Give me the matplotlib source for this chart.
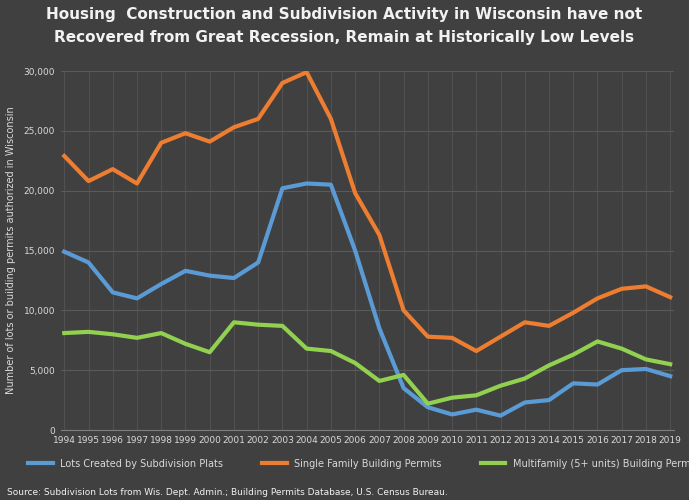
import matplotlib.pyplot as plt

years = list(range(1994, 2020))
lots_plats = [14900, 14000, 11500, 11000, 12200, 13300, 12900, 12700, 14000, 20200,
              20600, 20500, 15000, 8500, 3500, 1900, 1300, 1700, 1200, 2300,
              2500, 3900, 3800, 5000, 5100, 4500]
single_family = [22900, 20800, 21800, 20600, 24000, 24800, 24100, 25300, 26000, 29000,
                 29900, 26000, 19800, 16300, 10000, 7800, 7700, 6600, 7800, 9000,
                 8700, 9800, 11000, 11800, 12000, 11100]
multifamily = [8100, 8200, 8000, 7700, 8100, 7200, 6500, 9000, 8800, 8700,
               6800, 6600, 5600, 4100, 4600, 2200, 2700, 2900, 3700, 4300,
               5400, 6300, 7400, 6800, 5900, 5500]

bg = '#404040'
fig = plt.figure(figsize=(6.89, 5.0), dpi=100, facecolor=bg)
ax = fig.add_axes([0.088, 0.14, 0.89, 0.718], facecolor=bg)

ax.plot(years, lots_plats, color='#5b9bd5', lw=3, solid_joinstyle='round',
        label='Lots Created by Subdivision Plats')
ax.plot(years, single_family, color='#ed7d31', lw=3, solid_joinstyle='round',
        label='Single Family Building Permits')
ax.plot(years, multifamily, color='#92d050', lw=3, solid_joinstyle='round',
        label='Multifamily (5+ units) Building Permits')

ax.set_xlim(1993.85, 2019.15)
ax.set_ylim(0, 30000)
ax.set_xticks(years)
ax.set_xticklabels([str(y) for y in years], fontsize=6.5, color='#d9d9d9')
ax.set_yticks(range(0, 30001, 5000))
ax.set_yticklabels(['0'] + [f'{v:,}' for v in range(5000, 30001, 5000)],
                   fontsize=6.5, color='#d9d9d9')
ax.grid(axis='y', color='#5a5a5a', lw=0.8)
ax.grid(axis='x', color='#555555', lw=0.6)
ax.tick_params(length=0, pad=4)
for s in ax.spines.values():
    s.set_visible(False)
ax.spines['bottom'].set_visible(True)
ax.spines['bottom'].set_color('#7f7f7f')

fig.text(0.016, 0.5, 'Number of lots or building permits authorized in Wisconsin',
         rotation=90, va='center', ha='center', fontsize=7, color='#d9d9d9')
fig.suptitle('Housing  Construction and Subdivision Activity in Wisconsin have not\n'
             'Recovered from Great Recession, Remain at Historically Low Levels',
             y=0.985, fontsize=11, fontweight='bold', color='#f2f2f2', linespacing=1.6)
leg = fig.legend(loc='lower center', bbox_to_anchor=(0.53, 0.045), ncol=3, frameon=False,
                 fontsize=7, handlelength=2.5, columnspacing=4)
for t in leg.get_texts():
    t.set_color('#d9d9d9')
fig.text(0.01, 0.01, 'Source: Subdivision Lots from Wis. Dept. Admin.; Building Permits Database, U.S. Census Bureau.',
         fontsize=6.5, color='#f2f2f2')

fig.savefig('out.png', dpi=100, facecolor=bg)
